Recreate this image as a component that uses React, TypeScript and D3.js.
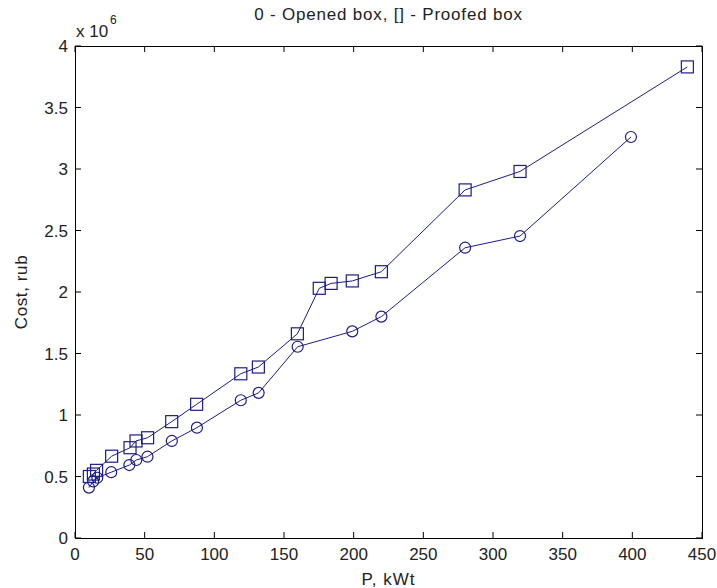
import React from "react";
import * as d3 from "d3";

const openedP = [10, 13, 16, 26, 39, 44, 52, 69.5, 87.5, 119, 131.8, 159.8, 199, 219.9, 280, 319.4, 399];
const openedCost = [0.41, 0.46, 0.49, 0.535, 0.593, 0.634, 0.661, 0.789, 0.897, 1.12, 1.18, 1.555, 1.68, 1.8, 2.36, 2.455, 3.26];

const proofedP = [10.3, 13.2, 15.5, 26.3, 39.5, 43.8, 52.1, 69.4, 87.3, 119, 131.6, 159.6, 175.3, 183.8, 199, 219.9, 280, 319.4, 439.5];
const proofedCost = [0.5, 0.52, 0.55, 0.665, 0.734, 0.789, 0.815, 0.946, 1.087, 1.335, 1.39, 1.66, 2.03, 2.07, 2.09, 2.165, 2.83, 2.98, 3.83];

const xTicks = [0, 50, 100, 150, 200, 250, 300, 350, 400, 450];
const yTicks = [0, 0.5, 1, 1.5, 2, 2.5, 3, 3.5, 4];
const yTickLabels = ["0", "0.5", "1", "1.5", "2", "2.5", "3", "3.5", "4"];

const titleText = "0 - Opened box, [] - Proofed box";
const xLabel = "P, kWt";
const yLabel = "Cost, rub";

const W = 717;
const H = 588;
const left = 75;
const right = 702;
const top = 46;
const bottom = 538;

export default function App() {
  const x = d3.scaleLinear().domain([0, 450]).range([left, right]);
  const y = d3.scaleLinear().domain([0, 4]).range([bottom, top]);
  const line = d3
    .line<[number, number]>()
    .x((d) => x(d[0]))
    .y((d) => y(d[1]));
  const opened: [number, number][] = openedP.map((p, i) => [p, openedCost[i]]);
  const proofed: [number, number][] = proofedP.map((p, i) => [p, proofedCost[i]]);
  const color = "#1c1c84";
  const font = "'Liberation Sans', Arial, sans-serif";
  const tl = 6;
  return (
    <svg
      width={W}
      height={H}
      style={{ position: "absolute", left: 0, top: 0, background: "#fff" }}
      fontFamily={font}
    >
      <rect x={0} y={0} width={W} height={H} fill="#fff" />
      {xTicks.map((t) => (
        <g key={"xt" + t}>
          <line x1={x(t)} x2={x(t)} y1={bottom} y2={bottom - tl} stroke="#000" />
          <line x1={x(t)} x2={x(t)} y1={top} y2={top + tl} stroke="#000" />
          <text x={x(t)} y={560} textAnchor="middle" fontSize={17} fill="#222">
            {t}
          </text>
        </g>
      ))}
      {yTicks.map((t, i) => (
        <g key={"yt" + t}>
          <line x1={left} x2={left + tl} y1={y(t)} y2={y(t)} stroke="#000" />
          <line x1={right} x2={right - tl} y1={y(t)} y2={y(t)} stroke="#000" />
          <text x={68} y={y(t) + 6} textAnchor="end" fontSize={17} fill="#222">
            {yTickLabels[i]}
          </text>
        </g>
      ))}
      <rect
        x={left}
        y={top}
        width={right - left}
        height={bottom - top}
        fill="none"
        stroke="#000"
        strokeWidth={1}
        shapeRendering="crispEdges"
      />
      <text x={76} y={37} fontSize={17} fill="#222">
        x 10
      </text>
      <text x={110} y={24} fontSize={12} fill="#222">
        6
      </text>
      <text
        x={(left + right) / 2}
        y={20}
        textAnchor="middle"
        fontSize={17}
        letterSpacing={0.8}
        fill="#222"
      >
        {titleText}
      </text>
      <text x={(left + right) / 2} y={585} textAnchor="middle" fontSize={17} letterSpacing={1} fill="#222">
        {xLabel}
      </text>
      <text
        transform={`translate(27, ${(top + bottom) / 2}) rotate(-90)`}
        textAnchor="middle"
        fontSize={17}
        letterSpacing={0.6}
        fill="#222"
      >
        {yLabel}
      </text>
      <path d={line(opened) || ""} fill="none" stroke={color} strokeWidth={1} />
      <path d={line(proofed) || ""} fill="none" stroke={color} strokeWidth={1} />
      {opened.map((d, i) => (
        <circle key={"c" + i} cx={x(d[0])} cy={y(d[1])} r={5.5} fill="none" stroke={color} strokeWidth={1.2} />
      ))}
      {proofed.map((d, i) => (
        <rect
          key={"s" + i}
          x={x(d[0]) - 6}
          y={y(d[1]) - 6}
          width={12}
          height={12}
          fill="none"
          stroke={color}
          strokeWidth={1.2}
        />
      ))}
    </svg>
  );
}
